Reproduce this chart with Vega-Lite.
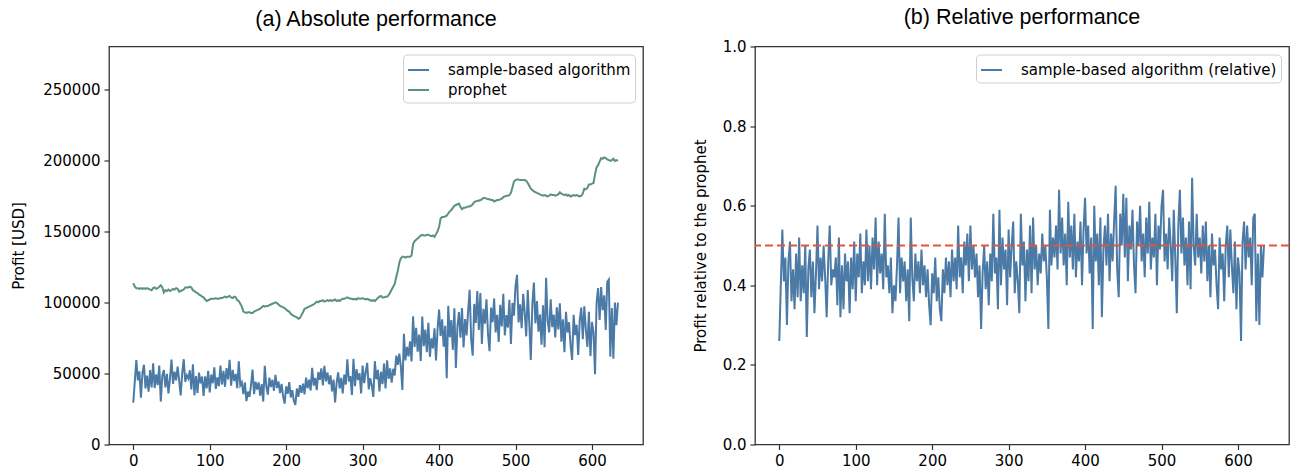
{
"$schema": "https://vega.github.io/schema/vega-lite/v6.json",
"background": "white",
"padding": {"left": 11, "top": 6.5, "right": 0, "bottom": 0},
"spacing": 48,
"resolve": {"scale": {"color": "independent"}, "legend": {"color": "independent"}},
"config": {
 "view": {"stroke": "#333333", "strokeWidth": 1.3},
 "axis": {"domain": false, "grid": false, "labelFont": "DejaVu Sans", "labelFontSize": 15, "labelColor": "#000000", "tickColor": "#333333", "tickSize": 5, "tickWidth": 1.2, "labelPadding": 4, "titleFont": "DejaVu Sans", "titleFontSize": 15, "titleFontWeight": "normal", "titleColor": "#000000"},
 "title": {"font": "Liberation Sans", "fontSize": 21.5, "fontWeight": "normal", "color": "#000000", "frame": "group"},
 "legend": {"labelFont": "DejaVu Sans", "labelFontSize": 15, "labelColor": "#000000", "labelLimit": 500, "fillColor": "white", "strokeColor": "#d0d0d0", "cornerRadius": 4, "padding": 4, "symbolType": "stroke", "symbolStrokeWidth": 2, "symbolSize": 441, "rowPadding": 0, "offset": 8, "labelOffset": 18}
},
"datasets": {"d": [
{"t":0,"s":29500,"p":113500,"r":0.26},{"t":2,"s":44400,"p":111000,"r":0.40},{"t":4,"s":59400,"p":110000,"r":0.54},{"t":6,"s":45100,"p":110000,"r":0.41},{"t":8,"s":51500,"p":109500,"r":0.47},
{"t":10,"s":33000,"p":110000,"r":0.30},{"t":12,"s":50400,"p":109500,"r":0.46},{"t":14,"s":56100,"p":110000,"r":0.51},{"t":16,"s":39400,"p":109500,"r":0.36},{"t":18,"s":48400,"p":110000,"r":0.44},
{"t":20,"s":37200,"p":109500,"r":0.34},{"t":22,"s":52300,"p":109000,"r":0.48},{"t":24,"s":40100,"p":108500,"r":0.37},{"t":26,"s":57200,"p":110000,"r":0.52},{"t":28,"s":39800,"p":110500,"r":0.36},
{"t":30,"s":49300,"p":109500,"r":0.45},{"t":32,"s":41800,"p":110000,"r":0.38},{"t":34,"s":55500,"p":111000,"r":0.50},{"t":36,"s":30200,"p":112000,"r":0.27},{"t":38,"s":48600,"p":110500,"r":0.44},
{"t":40,"s":52400,"p":107000,"r":0.49},{"t":42,"s":40100,"p":108500,"r":0.37},{"t":44,"s":49700,"p":108000,"r":0.46},{"t":46,"s":36000,"p":109000,"r":0.33},{"t":48,"s":46400,"p":108000,"r":0.43},
{"t":50,"s":59700,"p":108500,"r":0.55},{"t":52,"s":42700,"p":109500,"r":0.39},{"t":54,"s":51200,"p":109000,"r":0.47},{"t":56,"s":45100,"p":110000,"r":0.41},{"t":58,"s":54800,"p":109500,"r":0.50},
{"t":60,"s":45200,"p":107500,"r":0.42},{"t":62,"s":34600,"p":108000,"r":0.32},{"t":64,"s":49900,"p":108500,"r":0.46},{"t":66,"s":60000,"p":109000,"r":0.55},{"t":68,"s":44200,"p":110500,"r":0.40},
{"t":70,"s":48600,"p":110500,"r":0.44},{"t":72,"s":46400,"p":110500,"r":0.42},{"t":74,"s":52200,"p":111000,"r":0.47},{"t":76,"s":38700,"p":110500,"r":0.35},{"t":78,"s":56400,"p":108500,"r":0.52},
{"t":80,"s":34600,"p":108000,"r":0.32},{"t":82,"s":48200,"p":107000,"r":0.45},{"t":84,"s":36200,"p":106500,"r":0.34},{"t":86,"s":50600,"p":105500,"r":0.48},{"t":88,"s":43100,"p":105000,"r":0.41},
{"t":90,"s":47800,"p":104000,"r":0.46},{"t":92,"s":34200,"p":103500,"r":0.33},{"t":94,"s":47900,"p":102000,"r":0.47},{"t":96,"s":39400,"p":101000,"r":0.39},{"t":98,"s":51800,"p":101500,"r":0.51},
{"t":100,"s":36700,"p":102000,"r":0.36},{"t":102,"s":49200,"p":102500,"r":0.48},{"t":104,"s":43100,"p":102500,"r":0.42},{"t":106,"s":54300,"p":102500,"r":0.53},{"t":108,"s":39100,"p":103000,"r":0.38},
{"t":110,"s":47200,"p":102500,"r":0.46},{"t":112,"s":41000,"p":102500,"r":0.40},{"t":114,"s":55600,"p":103000,"r":0.54},{"t":116,"s":42200,"p":103000,"r":0.41},{"t":118,"s":51800,"p":103500,"r":0.50},
{"t":120,"s":40600,"p":104000,"r":0.39},{"t":122,"s":53800,"p":103500,"r":0.52},{"t":124,"s":45800,"p":104000,"r":0.44},{"t":126,"s":59600,"p":104500,"r":0.57},{"t":128,"s":41400,"p":103500,"r":0.40},
{"t":130,"s":52500,"p":103000,"r":0.51},{"t":132,"s":44700,"p":104000,"r":0.43},{"t":134,"s":49700,"p":103500,"r":0.48},{"t":136,"s":39600,"p":101500,"r":0.39},{"t":138,"s":58600,"p":101000,"r":0.58},
{"t":140,"s":41600,"p":99000,"r":0.42},{"t":142,"s":43700,"p":97000,"r":0.45},{"t":144,"s":35500,"p":93500,"r":0.38},{"t":146,"s":43700,"p":93000,"r":0.47},{"t":148,"s":30500,"p":92500,"r":0.33},
{"t":150,"s":37200,"p":93000,"r":0.40},{"t":152,"s":33500,"p":93000,"r":0.36},{"t":154,"s":41600,"p":92500,"r":0.45},{"t":156,"s":52700,"p":92500,"r":0.57},{"t":158,"s":35500,"p":93500,"r":0.38},
{"t":160,"s":44200,"p":94000,"r":0.47},{"t":162,"s":38700,"p":94500,"r":0.41},{"t":164,"s":43700,"p":95000,"r":0.46},{"t":166,"s":34400,"p":95500,"r":0.36},{"t":168,"s":42500,"p":96500,"r":0.44},
{"t":170,"s":30200,"p":97500,"r":0.31},{"t":172,"s":55300,"p":97000,"r":0.57},{"t":174,"s":41000,"p":97500,"r":0.42},{"t":176,"s":35100,"p":97500,"r":0.36},{"t":178,"s":47000,"p":98000,"r":0.48},
{"t":180,"s":40400,"p":98500,"r":0.41},{"t":182,"s":45500,"p":99000,"r":0.46},{"t":184,"s":37800,"p":99500,"r":0.38},{"t":186,"s":49000,"p":100000,"r":0.49},{"t":188,"s":39800,"p":99500,"r":0.40},
{"t":190,"s":44300,"p":98500,"r":0.45},{"t":192,"s":36100,"p":97500,"r":0.37},{"t":194,"s":42700,"p":97000,"r":0.44},{"t":196,"s":33800,"p":96500,"r":0.35},{"t":198,"s":28800,"p":96000,"r":0.30},
{"t":200,"s":40900,"p":95000,"r":0.43},{"t":202,"s":35700,"p":94000,"r":0.38},{"t":204,"s":43900,"p":93500,"r":0.47},{"t":206,"s":33100,"p":92000,"r":0.36},{"t":208,"s":38200,"p":91000,"r":0.42},
{"t":210,"s":30800,"p":90500,"r":0.34},{"t":212,"s":27900,"p":90000,"r":0.31},{"t":214,"s":39400,"p":89500,"r":0.44},{"t":216,"s":33600,"p":88500,"r":0.38},{"t":218,"s":41800,"p":89000,"r":0.47},
{"t":220,"s":36400,"p":91000,"r":0.40},{"t":222,"s":42800,"p":93000,"r":0.46},{"t":224,"s":35300,"p":95500,"r":0.37},{"t":226,"s":47000,"p":96000,"r":0.49},{"t":228,"s":39600,"p":96500,"r":0.41},
{"t":230,"s":45600,"p":97000,"r":0.47},{"t":232,"s":38000,"p":97500,"r":0.39},{"t":234,"s":53900,"p":98000,"r":0.55},{"t":236,"s":41400,"p":98500,"r":0.42},{"t":238,"s":46800,"p":99500,"r":0.47},
{"t":240,"s":38200,"p":100500,"r":0.38},{"t":242,"s":51000,"p":100000,"r":0.51},{"t":244,"s":45500,"p":101000,"r":0.45},{"t":246,"s":53500,"p":101000,"r":0.53},{"t":248,"s":41600,"p":101500,"r":0.41},
{"t":250,"s":55300,"p":100500,"r":0.55},{"t":252,"s":44400,"p":101000,"r":0.44},{"t":254,"s":50800,"p":101500,"r":0.50},{"t":256,"s":42400,"p":101000,"r":0.42},{"t":258,"s":48700,"p":101500,"r":0.48},
{"t":260,"s":37400,"p":101000,"r":0.37},{"t":262,"s":45700,"p":101500,"r":0.45},{"t":264,"s":29600,"p":102000,"r":0.29},{"t":266,"s":43400,"p":101000,"r":0.43},{"t":268,"s":50800,"p":101500,"r":0.50},
{"t":270,"s":39400,"p":101000,"r":0.39},{"t":272,"s":46900,"p":102000,"r":0.46},{"t":274,"s":35900,"p":102500,"r":0.35},{"t":276,"s":49200,"p":102500,"r":0.48},{"t":278,"s":42200,"p":103000,"r":0.41},
{"t":280,"s":60000,"p":103500,"r":0.58},{"t":282,"s":44300,"p":103000,"r":0.43},{"t":284,"s":48200,"p":102500,"r":0.47},{"t":286,"s":34900,"p":102500,"r":0.34},{"t":288,"s":60200,"p":102000,"r":0.59},
{"t":290,"s":41000,"p":102500,"r":0.40},{"t":292,"s":53000,"p":102000,"r":0.52},{"t":294,"s":45300,"p":103000,"r":0.44},{"t":296,"s":50200,"p":102500,"r":0.49},{"t":298,"s":35900,"p":102500,"r":0.35},
{"t":300,"s":55600,"p":103000,"r":0.54},{"t":302,"s":43100,"p":102500,"r":0.42},{"t":304,"s":51000,"p":102000,"r":0.50},{"t":306,"s":57400,"p":102500,"r":0.56},{"t":308,"s":38800,"p":102000,"r":0.38},
{"t":310,"s":46700,"p":101500,"r":0.46},{"t":312,"s":41400,"p":101000,"r":0.41},{"t":314,"s":33500,"p":101500,"r":0.33},{"t":316,"s":58600,"p":101000,"r":0.58},{"t":318,"s":45900,"p":102000,"r":0.45},
{"t":320,"s":52500,"p":103000,"r":0.51},{"t":322,"s":37400,"p":104000,"r":0.36},{"t":324,"s":51200,"p":104500,"r":0.49},{"t":326,"s":42400,"p":103500,"r":0.41},{"t":328,"s":56900,"p":103500,"r":0.55},
{"t":330,"s":39500,"p":104000,"r":0.38},{"t":332,"s":59300,"p":104000,"r":0.57},{"t":334,"s":46200,"p":105000,"r":0.44},{"t":336,"s":53500,"p":107000,"r":0.50},{"t":338,"s":43600,"p":109000,"r":0.40},
{"t":340,"s":53300,"p":111000,"r":0.48},{"t":342,"s":48600,"p":113000,"r":0.43},{"t":344,"s":62500,"p":118000,"r":0.53},{"t":346,"s":56100,"p":122000,"r":0.46},{"t":348,"s":64000,"p":128000,"r":0.50},
{"t":350,"s":55000,"p":131000,"r":0.42},{"t":352,"s":38300,"p":132000,"r":0.29},{"t":354,"s":77900,"p":132000,"r":0.59},{"t":356,"s":59200,"p":131500,"r":0.45},{"t":358,"s":68600,"p":132000,"r":0.52},
{"t":360,"s":62000,"p":132000,"r":0.47},{"t":362,"s":72600,"p":132000,"r":0.55},{"t":364,"s":58500,"p":133000,"r":0.44},{"t":366,"s":90200,"p":141000,"r":0.64},{"t":368,"s":68600,"p":143000,"r":0.48},
{"t":370,"s":82100,"p":144000,"r":0.57},{"t":372,"s":65300,"p":145000,"r":0.45},{"t":374,"s":77400,"p":146000,"r":0.53},{"t":376,"s":58800,"p":147000,"r":0.40},{"t":378,"s":90000,"p":147500,"r":0.61},
{"t":380,"s":69100,"p":147000,"r":0.47},{"t":382,"s":80900,"p":147000,"r":0.55},{"t":384,"s":64900,"p":147500,"r":0.44},{"t":386,"s":85600,"p":147500,"r":0.58},{"t":388,"s":61700,"p":147000,"r":0.42},
{"t":390,"s":74700,"p":146500,"r":0.51},{"t":392,"s":67600,"p":147000,"r":0.46},{"t":394,"s":81800,"p":146000,"r":0.56},{"t":396,"s":59200,"p":148000,"r":0.40},{"t":398,"s":81000,"p":150000,"r":0.54},
{"t":400,"s":94900,"p":153000,"r":0.62},{"t":402,"s":76300,"p":159000,"r":0.48},{"t":404,"s":88000,"p":160000,"r":0.55},{"t":406,"s":68800,"p":160000,"r":0.43},{"t":408,"s":83500,"p":160500,"r":0.52},
{"t":410,"s":46700,"p":161000,"r":0.29},{"t":412,"s":97500,"p":162500,"r":0.60},{"t":414,"s":75400,"p":164000,"r":0.46},{"t":416,"s":87500,"p":165000,"r":0.53},{"t":418,"s":66600,"p":166500,"r":0.40},
{"t":420,"s":95800,"p":168000,"r":0.57},{"t":422,"s":53900,"p":168500,"r":0.32},{"t":424,"s":82800,"p":169000,"r":0.49},{"t":426,"s":93200,"p":169500,"r":0.55},{"t":428,"s":75200,"p":167000,"r":0.45},
{"t":430,"s":96000,"p":165500,"r":0.58},{"t":432,"s":68300,"p":166500,"r":0.41},{"t":434,"s":88200,"p":166500,"r":0.53},{"t":436,"s":76800,"p":167000,"r":0.46},{"t":438,"s":93800,"p":167500,"r":0.56},
{"t":440,"s":108900,"p":167500,"r":0.65},{"t":442,"s":73900,"p":168000,"r":0.44},{"t":444,"s":62500,"p":169000,"r":0.37},{"t":446,"s":98900,"p":170500,"r":0.58},{"t":448,"s":85500,"p":171000,"r":0.50},
{"t":450,"s":108000,"p":171500,"r":0.63},{"t":452,"s":80600,"p":171500,"r":0.47},{"t":454,"s":106600,"p":172000,"r":0.62},{"t":456,"s":70700,"p":172500,"r":0.41},{"t":458,"s":95400,"p":173500,"r":0.55},
{"t":460,"s":85000,"p":173500,"r":0.49},{"t":462,"s":102100,"p":173000,"r":0.59},{"t":464,"s":77600,"p":172500,"r":0.45},{"t":466,"s":65600,"p":172500,"r":0.38},{"t":468,"s":96300,"p":172000,"r":0.56},
{"t":470,"s":86000,"p":172000,"r":0.50},{"t":472,"s":102600,"p":171000,"r":0.60},{"t":474,"s":78900,"p":171500,"r":0.46},{"t":476,"s":91200,"p":172000,"r":0.53},{"t":478,"s":72200,"p":172000,"r":0.42},
{"t":480,"s":98300,"p":172500,"r":0.57},{"t":482,"s":83000,"p":173000,"r":0.48},{"t":484,"s":106100,"p":174000,"r":0.61},{"t":486,"s":76800,"p":174500,"r":0.44},{"t":488,"s":91000,"p":175000,"r":0.52},
{"t":490,"s":82300,"p":175000,"r":0.47},{"t":492,"s":101800,"p":175500,"r":0.58},{"t":494,"s":70800,"p":177000,"r":0.40},{"t":496,"s":99600,"p":181000,"r":0.55},{"t":498,"s":90700,"p":185000,"r":0.49},
{"t":500,"s":111600,"p":186000,"r":0.60},{"t":502,"s":119400,"p":186500,"r":0.64},{"t":504,"s":85800,"p":186500,"r":0.46},{"t":506,"s":98600,"p":186000,"r":0.53},{"t":508,"s":81800,"p":186000,"r":0.44},
{"t":510,"s":106000,"p":186000,"r":0.57},{"t":512,"s":93000,"p":186000,"r":0.50},{"t":514,"s":76100,"p":185500,"r":0.41},{"t":516,"s":108600,"p":184000,"r":0.59},{"t":518,"s":85500,"p":182000,"r":0.47},
{"t":520,"s":59400,"p":180000,"r":0.33},{"t":522,"s":98500,"p":179000,"r":0.55},{"t":524,"s":113900,"p":178000,"r":0.64},{"t":526,"s":85200,"p":177500,"r":0.48},{"t":528,"s":100900,"p":177000,"r":0.57},
{"t":530,"s":79400,"p":176500,"r":0.45},{"t":532,"s":91500,"p":176000,"r":0.52},{"t":534,"s":70200,"p":175500,"r":0.40},{"t":536,"s":98000,"p":175000,"r":0.56},{"t":538,"s":68400,"p":175500,"r":0.39},
{"t":540,"s":117300,"p":175000,"r":0.67},{"t":542,"s":87300,"p":174500,"r":0.50},{"t":544,"s":78800,"p":175000,"r":0.45},{"t":546,"s":102100,"p":176000,"r":0.58},{"t":548,"s":82500,"p":175500,"r":0.47},
{"t":550,"s":91300,"p":175500,"r":0.52},{"t":552,"s":75300,"p":175000,"r":0.43},{"t":554,"s":96500,"p":175500,"r":0.55},{"t":556,"s":81000,"p":176000,"r":0.46},{"t":558,"s":99400,"p":177500,"r":0.56},
{"t":560,"s":72400,"p":176500,"r":0.41},{"t":562,"s":88000,"p":176000,"r":0.50},{"t":564,"s":64900,"p":175500,"r":0.37},{"t":566,"s":93300,"p":176000,"r":0.53},{"t":568,"s":78800,"p":175000,"r":0.45},
{"t":570,"s":86000,"p":175500,"r":0.49},{"t":572,"s":69800,"p":174500,"r":0.40},{"t":574,"s":59500,"p":175000,"r":0.34},{"t":576,"s":91300,"p":175500,"r":0.52},{"t":578,"s":77000,"p":175000,"r":0.44},
{"t":580,"s":84200,"p":175500,"r":0.48},{"t":582,"s":63000,"p":175000,"r":0.36},{"t":584,"s":87300,"p":174500,"r":0.50},{"t":586,"s":96300,"p":175000,"r":0.55},{"t":588,"s":74100,"p":176500,"r":0.42},
{"t":590,"s":97200,"p":180000,"r":0.54},{"t":592,"s":80800,"p":179500,"r":0.45},{"t":594,"s":68600,"p":180500,"r":0.38},{"t":596,"s":93300,"p":183000,"r":0.51},{"t":598,"s":62200,"p":183000,"r":0.34},
{"t":600,"s":86200,"p":183500,"r":0.47},{"t":602,"s":79100,"p":184000,"r":0.43},{"t":604,"s":49400,"p":190000,"r":0.26},{"t":606,"s":99500,"p":195000,"r":0.51},{"t":608,"s":110000,"p":196500,"r":0.56},
{"t":610,"s":87600,"p":199000,"r":0.44},{"t":612,"s":110800,"p":201500,"r":0.55},{"t":614,"s":94500,"p":201000,"r":0.47},{"t":616,"s":105000,"p":202000,"r":0.52},{"t":618,"s":80600,"p":201500,"r":0.40},
{"t":620,"s":114300,"p":200500,"r":0.57},{"t":622,"s":116000,"p":200000,"r":0.58},{"t":624,"s":61800,"p":199500,"r":0.31},{"t":626,"s":96000,"p":200000,"r":0.48},{"t":628,"s":60300,"p":201000,"r":0.30},
{"t":630,"s":99800,"p":199500,"r":0.50},{"t":632,"s":84000,"p":200000,"r":0.42},{"t":634,"s":99800,"p":199500,"r":0.50}
]},
"hconcat": [
 {
  "width": 534, "height": 398,
  "title": {"text": "(a) Absolute performance", "offset": 16.5},
  "data": {"name": "d"},
  "transform": [{"fold": ["s", "p"], "as": ["k", "v"]}],
  "mark": {"type": "line", "strokeWidth": 2},
  "encoding": {
   "x": {"field": "t", "type": "quantitative", "scale": {"domain": [-31.75, 666.75], "nice": false, "zero": false}, "axis": {"values": [0, 100, 200, 300, 400, 500, 600], "title": null}},
   "y": {"field": "v", "type": "quantitative", "scale": {"domain": [0, 280000], "nice": false}, "axis": {"values": [0, 50000, 100000, 150000, 200000, 250000], "format": "d", "title": "Profit [USD]", "titlePadding": 16}},
   "color": {"field": "k", "type": "nominal", "scale": {"domain": ["s", "p"], "range": ["#4a7aa5", "#5b9279"]}, "legend": {"orient": "top-right", "title": null, "labelExpr": "datum.label == 's' ? 'sample-based algorithm' : 'prophet'"}}
  }
 },
 {
  "width": 534, "height": 398,
  "title": {"text": "(b) Relative performance", "offset": 10.7},
  "layer": [
   {
    "data": {"name": "d"},
    "mark": {"type": "line", "strokeWidth": 2},
    "encoding": {
     "x": {"field": "t", "type": "quantitative", "scale": {"domain": [-31.75, 666.75], "nice": false, "zero": false}, "axis": {"values": [0, 100, 200, 300, 400, 500, 600], "title": null}},
     "y": {"field": "r", "type": "quantitative", "scale": {"domain": [0, 1], "nice": false}, "axis": {"values": [0, 0.2, 0.4, 0.6, 0.8, 1.0], "format": ".1f", "title": "Profit relative to the prophet", "titlePadding": 14}},
     "color": {"datum": "sample-based algorithm (relative)", "type": "nominal", "scale": {"range": ["#4a7aa5"]}, "legend": {"orient": "top-right", "title": null}}
    }
   },
   {
    "data": {"values": [{"h": 0.5}]},
    "mark": {"type": "rule", "color": "#e5533c", "strokeDash": [8, 4], "strokeWidth": 2},
    "encoding": {"y": {"field": "h", "type": "quantitative"}}
   }
  ]
 }
]
}
